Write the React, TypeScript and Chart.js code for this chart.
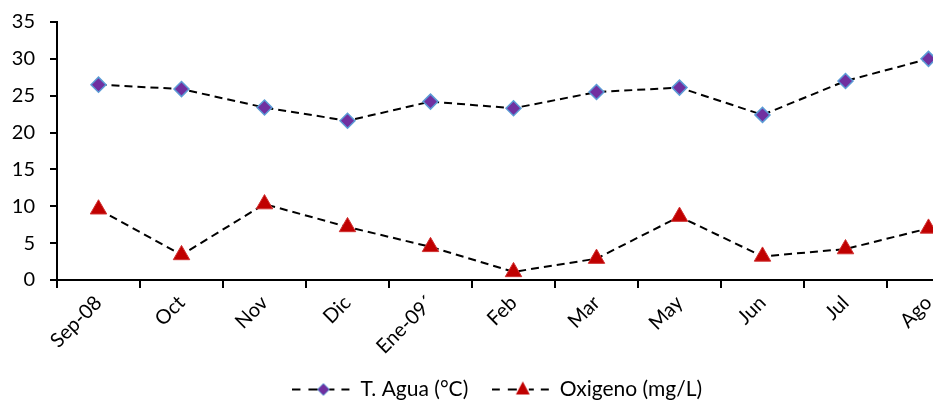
import React, { useEffect, useRef } from "react";
import { Chart, registerables } from "chart.js";

Chart.register(...registerables);

const categories = ["Sep-08", "Oct", "Nov", "Dic", "Ene-09´", "Feb", "Mar", "May", "Jun", "Jul", "Ago"];
const tempValues = [26.5, 25.9, 23.4, 21.6, 24.2, 23.3, 25.5, 26.1, 22.4, 27.0, 30.0];
const oxyValues = [9.6, 3.4, 10.3, 7.2, 4.5, 1.1, 2.9, 8.6, 3.2, 4.2, 7.0];
const seriesNames = ["T. Agua (°C)", "Oxigeno (mg/L)"];
const yMin = 0;
const yMax = 35;
const yStep = 5;

const FONT = "Lato, 'Open Sans', sans-serif";
const DIAMOND_FILL = "#7030A0";
const DIAMOND_BORDER = "#5B9BD5";
const TRI_FILL = "#C00000";
const TRI_BORDER = "#D03030";

function makeLegendIcon(kind: "diamond" | "triangle"): HTMLCanvasElement {
  const c = document.createElement("canvas");
  c.width = 58;
  c.height = 18;
  const ctx = c.getContext("2d")!;
  const cy = 9;
  ctx.strokeStyle = "#000";
  ctx.lineWidth = 2;
  const segs = [[0, 8], [16, 25], [37, 42], [49, 57]];
  for (const [a, b] of segs) {
    ctx.beginPath();
    ctx.moveTo(a, cy);
    ctx.lineTo(b, cy);
    ctx.stroke();
  }
  const cx = 31;
  ctx.beginPath();
  if (kind === "diamond") {
    const r = 6;
    ctx.moveTo(cx, cy - r);
    ctx.lineTo(cx + r, cy);
    ctx.lineTo(cx, cy + r);
    ctx.lineTo(cx - r, cy);
    ctx.closePath();
    ctx.fillStyle = DIAMOND_FILL;
    ctx.fill();
    ctx.lineWidth = 1;
    ctx.strokeStyle = DIAMOND_BORDER;
    ctx.stroke();
  } else {
    const r = 8;
    ctx.moveTo(cx, cy - r);
    ctx.lineTo(cx + r * 0.866, cy + r * 0.5 + 1);
    ctx.lineTo(cx - r * 0.866, cy + r * 0.5 + 1);
    ctx.closePath();
    ctx.fillStyle = TRI_FILL;
    ctx.fill();
  }
  return c;
}

export default function App() {
  const ref = useRef<HTMLCanvasElement | null>(null);

  useEffect(() => {
    if (!ref.current) return;
    const icons = [makeLegendIcon("diamond"), makeLegendIcon("triangle")];
    const chart = new Chart(ref.current, {
      type: "line",
      data: {
        labels: categories,
        datasets: [
          {
            label: seriesNames[0],
            data: tempValues,
            borderColor: "#000",
            borderWidth: 2,
            borderDash: [8, 5],
            fill: false,
            tension: 0,
            pointStyle: "rectRot",
            pointRadius: 7.5,
            pointBackgroundColor: DIAMOND_FILL,
            pointBorderColor: DIAMOND_BORDER,
            pointBorderWidth: 1.5,
          },
          {
            label: seriesNames[1],
            data: oxyValues,
            borderColor: "#000",
            borderWidth: 2,
            borderDash: [8, 5],
            fill: false,
            tension: 0,
            pointStyle: "triangle",
            pointRadius: 9.5,
            pointBackgroundColor: TRI_FILL,
            pointBorderColor: TRI_BORDER,
            pointBorderWidth: 1,
          },
        ],
      },
      options: {
        responsive: false,
        animation: false,
        devicePixelRatio: 1,
        layout: { padding: { top: 22, left: 0, right: 0, bottom: 0 } },
        plugins: {
          tooltip: { enabled: false },
          legend: {
            position: "bottom",
            labels: {
              usePointStyle: true,
              pointStyleWidth: 57,
              padding: 24,
              color: "#000",
              font: { family: FONT, size: 21 },
              generateLabels: (ch: any) => {
                const base = (Chart.defaults.plugins.legend.labels as any).generateLabels(ch);
                return base.map((it: any, i: number) => ({ ...it, pointStyle: icons[i] }));
              },
            },
          },
        },
        scales: {
          x: {
            offset: true,
            grid: {
              offset: true,
              drawOnChartArea: false,
              drawTicks: true,
              tickLength: 8,
              color: "#000",
              lineWidth: 2,
            },
            border: { display: true, color: "#000", width: 2 },
            ticks: {
              minRotation: 45,
              maxRotation: 45,
              autoSkip: false,
              color: "#000",
              padding: 3,
              font: { family: FONT, size: 20 },
            },
            afterFit: (s: any) => {
              s.height = 75;
            },
          },
          y: {
            min: yMin,
            max: yMax,
            grid: {
              drawOnChartArea: false,
              drawTicks: true,
              tickLength: 7,
              color: "#000",
              lineWidth: 2,
            },
            border: { display: true, color: "#000", width: 2 },
            ticks: {
              stepSize: yStep,
              color: "#000",
              padding: 15,
              font: { family: FONT, size: 20 },
            },
            afterFit: (s: any) => {
              s.width = 57;
              s.paddingTop = 0;
              s.paddingBottom = 0;
            },
          },
          y2: {
            position: "right",
            display: true,
            grid: { display: false },
            border: { display: false },
            ticks: { display: false },
            afterFit: (s: any) => {
              s.width = 25;
              s.paddingTop = 0;
              s.paddingBottom = 0;
            },
          },
        },
      },
    });
    return () => chart.destroy();
  }, []);

  return (
    <div
      style={{
        position: "fixed",
        left: 0,
        top: 0,
        width: 933,
        height: 401,
        overflow: "hidden",
        background: "#fff",
      }}
    >
      <canvas ref={ref} width={995} height={410} style={{ display: "block" }} />
    </div>
  );
}
